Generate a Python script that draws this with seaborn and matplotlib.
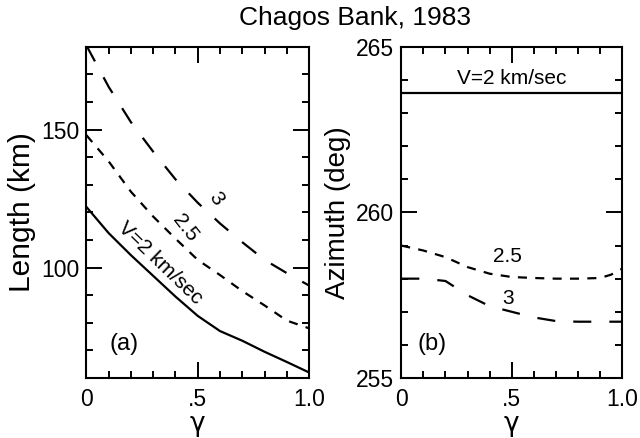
import matplotlib
matplotlib.use("Agg")
import matplotlib.pyplot as plt
from matplotlib.ticker import FixedLocator, MultipleLocator
import pandas as pd
import seaborn as sns

# ---- data -------------------------------------------------------------
gamma = [0.0, 0.1, 0.2, 0.3, 0.4, 0.5, 0.6, 0.7, 0.8, 0.9, 1.0]

# Rupture length (km) for three rupture velocities
length_v2 = [122.0, 112.5, 104.5, 97.0, 89.5, 82.5, 77.0, 73.5, 69.5, 65.8, 62.0]
length_v25 = [148.0, 138.5, 127.5, 118.5, 110.5, 102.8, 97.3, 91.5, 86.3, 80.8, 78.0]
length_v3 = [180.5, 165.5, 152.7, 142.0, 132.0, 123.5, 116.0, 109.2, 102.8, 98.0, 93.5]

# Rupture azimuth (deg)
gamma_v2_az = [0.0, 1.0]
azimuth_v2 = [263.6, 263.6]
gamma_v25_az = [0.0, 0.1, 0.2, 0.3, 0.4, 0.5, 0.6, 0.7, 0.8, 0.9, 0.95, 1.0]
azimuth_v25 = [259.0, 258.85, 258.65, 258.35, 258.15, 258.05, 258.02, 258.0, 258.0, 258.02, 258.12, 258.3]
azimuth_v3 = [258.0, 258.0, 257.93, 257.5, 257.17, 257.0, 256.83, 256.72, 256.7, 256.7, 256.7]

x_ticks = [0.0, 0.5, 1.0]
x_ticklabels = ["0", ".5", "1.0"]
length_ticks = [100, 150]
azimuth_ticks = [255, 260, 265]

# ---- style ------------------------------------------------------------
sns.set_style("ticks")
plt.rcParams["font.family"] = ["Liberation Sans", "DejaVu Sans"]
plt.rcParams["lines.scale_dashes"] = False
for key in ("text.color", "axes.labelcolor", "xtick.color", "ytick.color",
            "axes.edgecolor"):
    plt.rcParams[key] = "black"

SOLID = "-"
SHORT = (0, (6.5, 6.0))
LONG = (0, (13.0, 13.0))
LW = 1.6

fig = plt.figure(figsize=(6.4, 4.38), dpi=100)
ax_a = fig.add_axes([0.135, 0.137, 0.348, 0.756])
ax_b = fig.add_axes([0.627, 0.137, 0.345, 0.756])


def line(ax, x, y, ls):
    df = pd.DataFrame({"x": x, "y": y})
    sns.lineplot(data=df, x="x", y="y", ax=ax, color="black", lw=LW,
                 linestyle=ls, estimator=None, sort=False, legend=False)


# (a) length
line(ax_a, gamma, length_v2, SOLID)
line(ax_a, gamma, length_v25, SHORT)
line(ax_a, gamma, length_v3, LONG)
ax_a.set_xlim(0, 1)
ax_a.set_ylim(60, 180)
ax_a.yaxis.set_major_locator(FixedLocator(length_ticks))
ax_a.yaxis.set_minor_locator(MultipleLocator(10))
ax_a.set_ylabel("Length (km)", fontsize=21.5, labelpad=4)

ax_a.text(0.33, 101.7, "V=2 km/sec", rotation=-44, fontsize=15,
          ha="center", va="center", rotation_mode="anchor")
ax_a.text(0.443, 114.4, "2.5", rotation=-52, fontsize=15,
          ha="center", va="center", rotation_mode="anchor")
ax_a.text(0.582, 124.9, "3", rotation=-55, fontsize=15,
          ha="center", va="center", rotation_mode="anchor")
ax_a.text(0.169, 72.3, "(a)", fontsize=17, ha="center", va="center")

# (b) azimuth
line(ax_b, gamma_v2_az, azimuth_v2, SOLID)
line(ax_b, gamma_v25_az, azimuth_v25, SHORT)
line(ax_b, gamma, azimuth_v3, LONG)
ax_b.set_xlim(0, 1)
ax_b.set_ylim(255, 265)
ax_b.yaxis.set_major_locator(FixedLocator(azimuth_ticks))
ax_b.yaxis.set_minor_locator(MultipleLocator(1))
ax_b.set_ylabel("Azimuth (deg)", fontsize=20, labelpad=4)

ax_b.text(0.5, 264.03, "V=2 km/sec", fontsize=15, ha="center", va="center")
ax_b.text(0.48, 258.67, "2.5", fontsize=15, ha="center", va="center")
ax_b.text(0.482, 257.4, "3", fontsize=15, ha="center", va="center")
ax_b.text(0.14, 256.03, "(b)", fontsize=17, ha="center", va="center")

for ax in (ax_a, ax_b):
    ax.xaxis.set_major_locator(FixedLocator(x_ticks))
    ax.set_xticklabels(x_ticklabels)
    ax.xaxis.set_minor_locator(MultipleLocator(0.1))
    ax.set_xlabel("γ", fontsize=19, labelpad=0, family="DejaVu Sans")
    ax.tick_params(which="both", direction="in", top=True, right=True,
                   width=1.4, color="black", labelcolor="black", labelsize=16.5)
    ax.tick_params(which="major", length=11.5)
    ax.tick_params(which="minor", length=5)
    ax.tick_params(axis="x", which="major", pad=7)
    ax.tick_params(axis="y", which="major", pad=5)
    for s in ax.spines.values():
        s.set_linewidth(1.5)
        s.set_color("black")
        s.set_visible(True)

fig.text(0.555, 0.959, "Chagos Bank, 1983", fontsize=19,
         ha="center", va="center")

fig.savefig("out.png", dpi=100, facecolor="white")
